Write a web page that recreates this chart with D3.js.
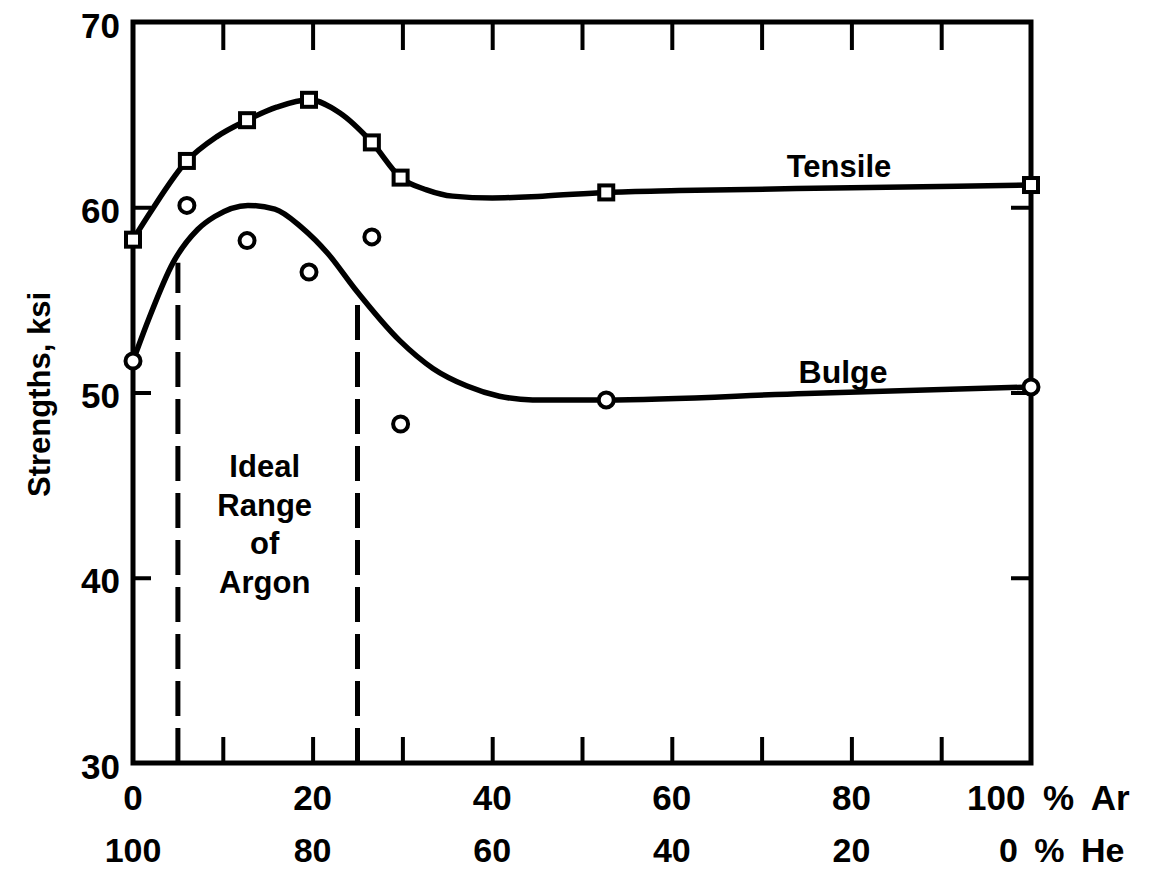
<!DOCTYPE html>
<html>
<head>
<meta charset="utf-8">
<script src="https://cdnjs.cloudflare.com/ajax/libs/d3/7.8.5/d3.min.js"></script>
<style>
  body { margin: 0; background: #fff; }
  text { font-family: "Liberation Sans", Arial, sans-serif; font-weight: bold; fill: #000; }
</style>
</head>
<body>
<div id="chart"></div>
<script>
// measured points (% argon in the shielding gas)
const argonPct = [0, 6, 12.7, 19.6, 26.6, 29.8, 52.7, 100];
const tensile  = [58.25, 62.5, 64.7, 65.8, 63.5, 61.6, 60.8, 61.2];
const bulge    = [51.7, 60.1, 58.2, 56.5, 58.4, 48.3, 49.6, 50.3];

// hand-drawn fitted curves
const tensileFitX = [0, 1.9, 6, 9.3, 12.7, 16, 19.6, 23, 26.6, 29.8, 32.7, 35.6, 40, 45.6, 52.7, 60.8, 80, 100];
const tensileFitY = [58.25, 59.7, 62.5, 63.8, 64.7, 65.4, 65.8, 65.1, 63.5, 61.6, 60.94, 60.6, 60.5, 60.6, 60.8, 60.9, 61.05, 61.2];
const bulgeFitX = [0, 1.7, 4.45, 7.2, 9.1, 12.8, 15.8, 18.8, 21.7, 24.7, 29.7, 33.4, 37.2, 40.8, 44.5, 48.3, 52.5, 75, 100];
const bulgeFitY = [51.7, 53.9, 57.0, 58.8, 59.5, 60.1, 59.9, 58.9, 57.5, 55.6, 52.8, 51.3, 50.35, 49.8, 49.6, 49.6, 49.6, 49.95, 50.3];

// ideal range of argon (dashed lines) and where they stop under the bulge curve
const idealRange = [5, 25];
const idealTop = [57.0, 55.2];

const yTickValues = [30, 40, 50, 60, 70];
const ySideTicks = [40, 50, 60];
const xTickValues = [10, 20, 30, 40, 50, 60, 70, 80, 90];
const labelPos = [0, 20, 40, 60, 80, 100];
const arLabels = ["0", "20", "40", "60", "80", "100 % Ar"];
const heLabels = ["100", "80", "60", "40", "20", "0 % He"];

const W = 1166, H = 871;
var x = d3.scaleLinear().domain([0, 100]).range([133, 1031]);
var y = d3.scaleLinear().domain([30, 70]).range([763, 22]);

var svg = d3.select("#chart").append("svg")
    .attr("width", W)
    .attr("height", H);

// inward ticks on bottom and top
svg.append("g")
    .attr("transform", "translate(0," + y(30) + ")")
    .call(d3.axisBottom(x).tickValues(xTickValues).tickSize(-26).tickFormat(""))
    .call(g => g.select(".domain").remove());
svg.append("g")
    .attr("transform", "translate(0," + y(70) + ")")
    .call(d3.axisTop(x).tickValues(xTickValues).tickSize(-28).tickFormat(""))
    .call(g => g.select(".domain").remove());
svg.append("g")
    .attr("transform", "translate(" + x(0) + ",0)")
    .call(d3.axisLeft(y).tickValues(ySideTicks).tickSize(-18).tickFormat(""))
    .call(g => g.select(".domain").remove());
svg.append("g")
    .attr("transform", "translate(" + x(100) + ",0)")
    .call(d3.axisRight(y).tickValues(ySideTicks).tickSize(-20).tickFormat(""))
    .call(g => g.select(".domain").remove());
svg.selectAll(".tick line").attr("stroke", "#000").attr("stroke-width", 4);

// frame
svg.append("rect")
    .attr("x", x(0)).attr("y", y(70))
    .attr("width", x(100) - x(0)).attr("height", y(30) - y(70))
    .attr("fill", "none").attr("stroke", "#000").attr("stroke-width", 5);

// y tick labels
svg.selectAll(".ylab").data(yTickValues).enter().append("text")
    .attr("class", "ylab")
    .attr("x", 120)
    .attr("y", d => y(d) + 3)
    .attr("text-anchor", "end")
    .attr("dominant-baseline", "central")
    .style("font-size", "35px")
    .text(d => d);

// x tick labels, two rows (argon / helium)
svg.selectAll(".arlab").data(labelPos).enter().append("text")
    .attr("class", "arlab")
    .attr("x", (d, i) => i == labelPos.length - 1 ? x(d) - 64 : x(d))
    .attr("y", 810)
    .attr("text-anchor", (d, i) => i == labelPos.length - 1 ? "start" : "middle")
    .style("font-size", "35px")
    .style("word-spacing", "8px")
    .text((d, i) => arLabels[i]);
svg.selectAll(".helab").data(labelPos).enter().append("text")
    .attr("class", "helab")
    .attr("x", (d, i) => i == labelPos.length - 1 ? x(d) - 32 : x(d))
    .attr("y", 862)
    .attr("text-anchor", (d, i) => i == labelPos.length - 1 ? "start" : "middle")
    .style("font-size", "34px")
    .style("word-spacing", "7px")
    .text((d, i) => heLabels[i]);

// y axis title
svg.append("text")
    .attr("transform", "translate(50," + ((y(30) + y(70)) / 2 + 2) + ") rotate(-90)")
    .attr("text-anchor", "middle")
    .style("font-size", "31px")
    .text("Strengths, ksi");

// dashed lines, drawn upwards from the axis
svg.selectAll(".ideal").data(idealRange).enter().append("path")
    .attr("class", "ideal")
    .attr("d", (d, i) => "M" + x(d) + "," + y(30) + "V" + y(idealTop[i]))
    .attr("stroke", "#000")
    .attr("stroke-width", 5)
    .attr("stroke-dasharray", "35,12");

// curves
var line = d3.line()
    .x(d => x(d[0]))
    .y(d => y(d[1]))
    .curve(d3.curveMonotoneX);
svg.append("path")
    .attr("d", line(tensileFitX.map((v, i) => [v, tensileFitY[i]])))
    .attr("fill", "none").attr("stroke", "#000").attr("stroke-width", 5.5);
svg.append("path")
    .attr("d", line(bulgeFitX.map((v, i) => [v, bulgeFitY[i]])))
    .attr("fill", "none").attr("stroke", "#000").attr("stroke-width", 5.5);

// markers
svg.selectAll(".sq").data(argonPct).enter().append("rect")
    .attr("class", "sq")
    .attr("x", d => x(d) - 7)
    .attr("y", (d, i) => y(tensile[i]) - 7)
    .attr("width", 14).attr("height", 14)
    .attr("fill", "#fff").attr("stroke", "#000").attr("stroke-width", 4);
svg.selectAll(".circ").data(argonPct).enter().append("circle")
    .attr("class", "circ")
    .attr("cx", d => x(d))
    .attr("cy", (d, i) => y(bulge[i]))
    .attr("r", 7.5)
    .attr("fill", "#fff").attr("stroke", "#000").attr("stroke-width", 4);

// curve labels
svg.append("text").attr("x", 839).attr("y", 177).attr("text-anchor", "middle")
    .style("font-size", "31px").text("Tensile");
svg.append("text").attr("x", 843).attr("y", 383).attr("text-anchor", "middle")
    .style("font-size", "32px").text("Bulge");

// range annotation
var idealLines = ["Ideal", "Range", "of", "Argon"];
svg.selectAll(".idl").data(idealLines).enter().append("text")
    .attr("class", "idl")
    .attr("x", x((idealRange[0] + idealRange[1]) / 2) - 3)
    .attr("y", (d, i) => 477 + i * 38.5)
    .attr("text-anchor", "middle")
    .style("font-size", "31px")
    .text(d => d);
</script>
</body>
</html>
